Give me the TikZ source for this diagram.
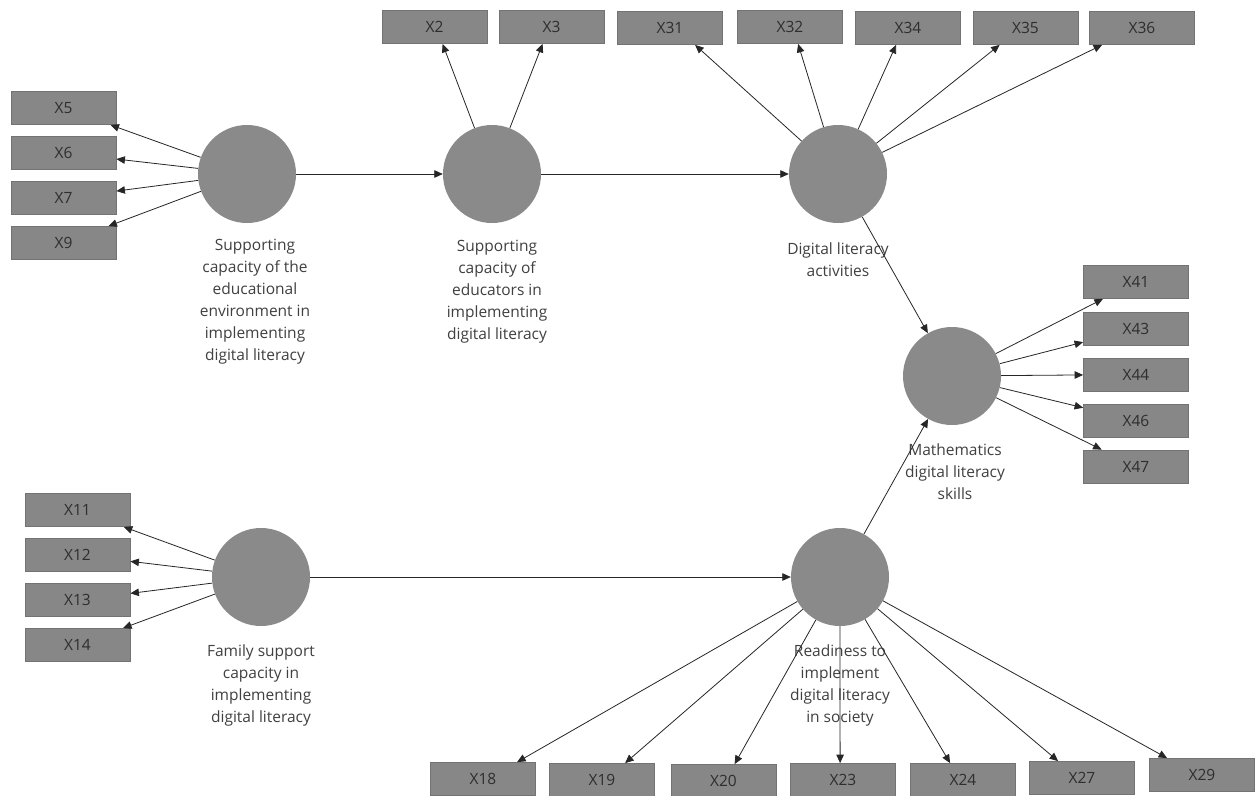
\documentclass[tikz,border=0pt]{standalone}
\usepackage{fontspec}
\setmainfont{Open Sans}
\usetikzlibrary{arrows.meta}
\definecolor{boxfill}{HTML}{878787}
\definecolor{boxline}{HTML}{737373}
\definecolor{circfill}{HTML}{8A8A8A}
\definecolor{boxtxt}{HTML}{2E2E2E}
\definecolor{lbltxt}{HTML}{404040}
\begin{document}
\begin{tikzpicture}[x=1pt,y=-1pt,
 ind/.style={draw=boxline,fill=boxfill,line width=0.8pt,minimum width=105pt,minimum height=33pt,inner sep=0pt,font=\fontsize{15.5}{17}\selectfont,text=boxtxt},
 lat/.style={circle,fill=circfill,minimum size=98pt,inner sep=0pt},
 lbl/.style={align=center,font=\fontsize{15.5}{22}\selectfont,text=lbltxt,inner sep=0pt},
 arr/.style={-{Triangle[length=8.5pt,width=7.5pt]},line width=0.8pt,draw=black!85}]
\clip (0,0) rectangle (1255,795);
\fill[white] (0,0) rectangle (1255,795);
% latent variables
\node[lat] (c1) at (247,174) {};
\node[lat] (c2) at (492,174) {};
\node[lat] (c3) at (838,174) {};
\node[lat] (c4) at (952,376) {};
\node[lat] (c5) at (261,577) {};
\node[lat] (c6) at (840,577) {};
% labels
\node[lbl] (l1) at (255,302) {Supporting\\capacity of the\\educational\\environment in\\implementing\\digital literacy};
\node[lbl] (l2) at (497,292) {Supporting\\capacity of\\educators in\\implementing\\digital literacy};
\node[lbl] (l3) at (838,260) {Digital literacy\\activities};
\node[lbl] (l4) at (955,472) {Mathematics\\digital literacy\\skills};
\node[lbl] (l5) at (261,685) {Family support\\capacity in\\implementing\\digital literacy};
\node[lbl] (l6) at (840,685) {Readiness to\\implement\\digital literacy\\in society};
% indicators left top
\node[ind] (x5) at (63.5,108) {X5};
\node[ind] (x6) at (63.5,153) {X6};
\node[ind] (x7) at (63.5,198) {X7};
\node[ind] (x9) at (63.5,243) {X9};
% indicators top
\node[ind] (x2) at (434.5,27) {X2};
\node[ind] (x3) at (551.5,27) {X3};
\node[ind] (x31) at (670,28) {X31};
\node[ind] (x32) at (790,27) {X32};
\node[ind] (x34) at (908,28) {X34};
\node[ind] (x35) at (1025.5,28) {X35};
\node[ind] (x36) at (1142,28) {X36};
% indicators right
\node[ind] (x41) at (1136,282) {X41};
\node[ind] (x43) at (1136,328.5) {X43};
\node[ind] (x44) at (1136,374.5) {X44};
\node[ind] (x46) at (1136,420.5) {X46};
\node[ind] (x47) at (1136,466.5) {X47};
% indicators left bottom
\node[ind] (x11) at (77.5,510) {X11};
\node[ind] (x12) at (77.5,555) {X12};
\node[ind] (x13) at (77.5,600) {X13};
\node[ind] (x14) at (77.5,645) {X14};
% indicators bottom
\node[ind] (x18) at (483,779) {X18};
\node[ind] (x19) at (602,780) {X19};
\node[ind] (x20) at (723.5,781) {X20};
\node[ind] (x23) at (843,780) {X23};
\node[ind] (x24) at (963,780) {X24};
\node[ind] (x27) at (1082,778) {X27};
\node[ind] (x29) at (1202,775) {X29};
% structural paths
\draw[arr] (c1) -- (c2);
\draw[arr] (c2) -- (c3);
\draw[arr] (c3) -- (c4);
\draw[arr] (c5) -- (c6);
\draw[arr] (c6) -- (c4);
% outer loadings
\foreach \b in {x5,x6,x7,x9} \draw[arr] (c1) -- (\b);
\draw[arr] (c2) -- ([xshift=61pt]x2.south west);
\draw[arr] (c2) -- ([xshift=44pt]x3.south west);
\draw[arr] (c3) -- ([xshift=78pt]x31.south west);
\draw[arr] (c3) -- ([xshift=61pt]x32.south west);
\draw[arr] (c3) -- ([xshift=41pt]x34.south west);
\draw[arr] (c3) -- ([xshift=27pt]x35.south west);
\draw[arr] (c3) -- ([xshift=13pt]x36.south west);
\foreach \b in {x41,x43,x44,x46,x47} \draw[arr] (c4) -- (\b);
\foreach \b in {x11,x12,x13,x14} \draw[arr] (c5) -- (\b);
\draw[arr] (c6) -- ([xshift=87pt]x18.north west);
\draw[arr] (c6) -- ([xshift=76pt]x19.north west);
\draw[arr] (c6) -- ([xshift=64pt]x20.north west);
\draw[arr] (c6) -- ([xshift=50pt]x23.north west);
\draw[arr] (c6) -- ([xshift=40pt]x24.north west);
\draw[arr] (c6) -- ([xshift=29pt]x27.north west);
\draw[arr] (c6) -- ([xshift=18pt]x29.north west);
\end{tikzpicture}
\end{document}
